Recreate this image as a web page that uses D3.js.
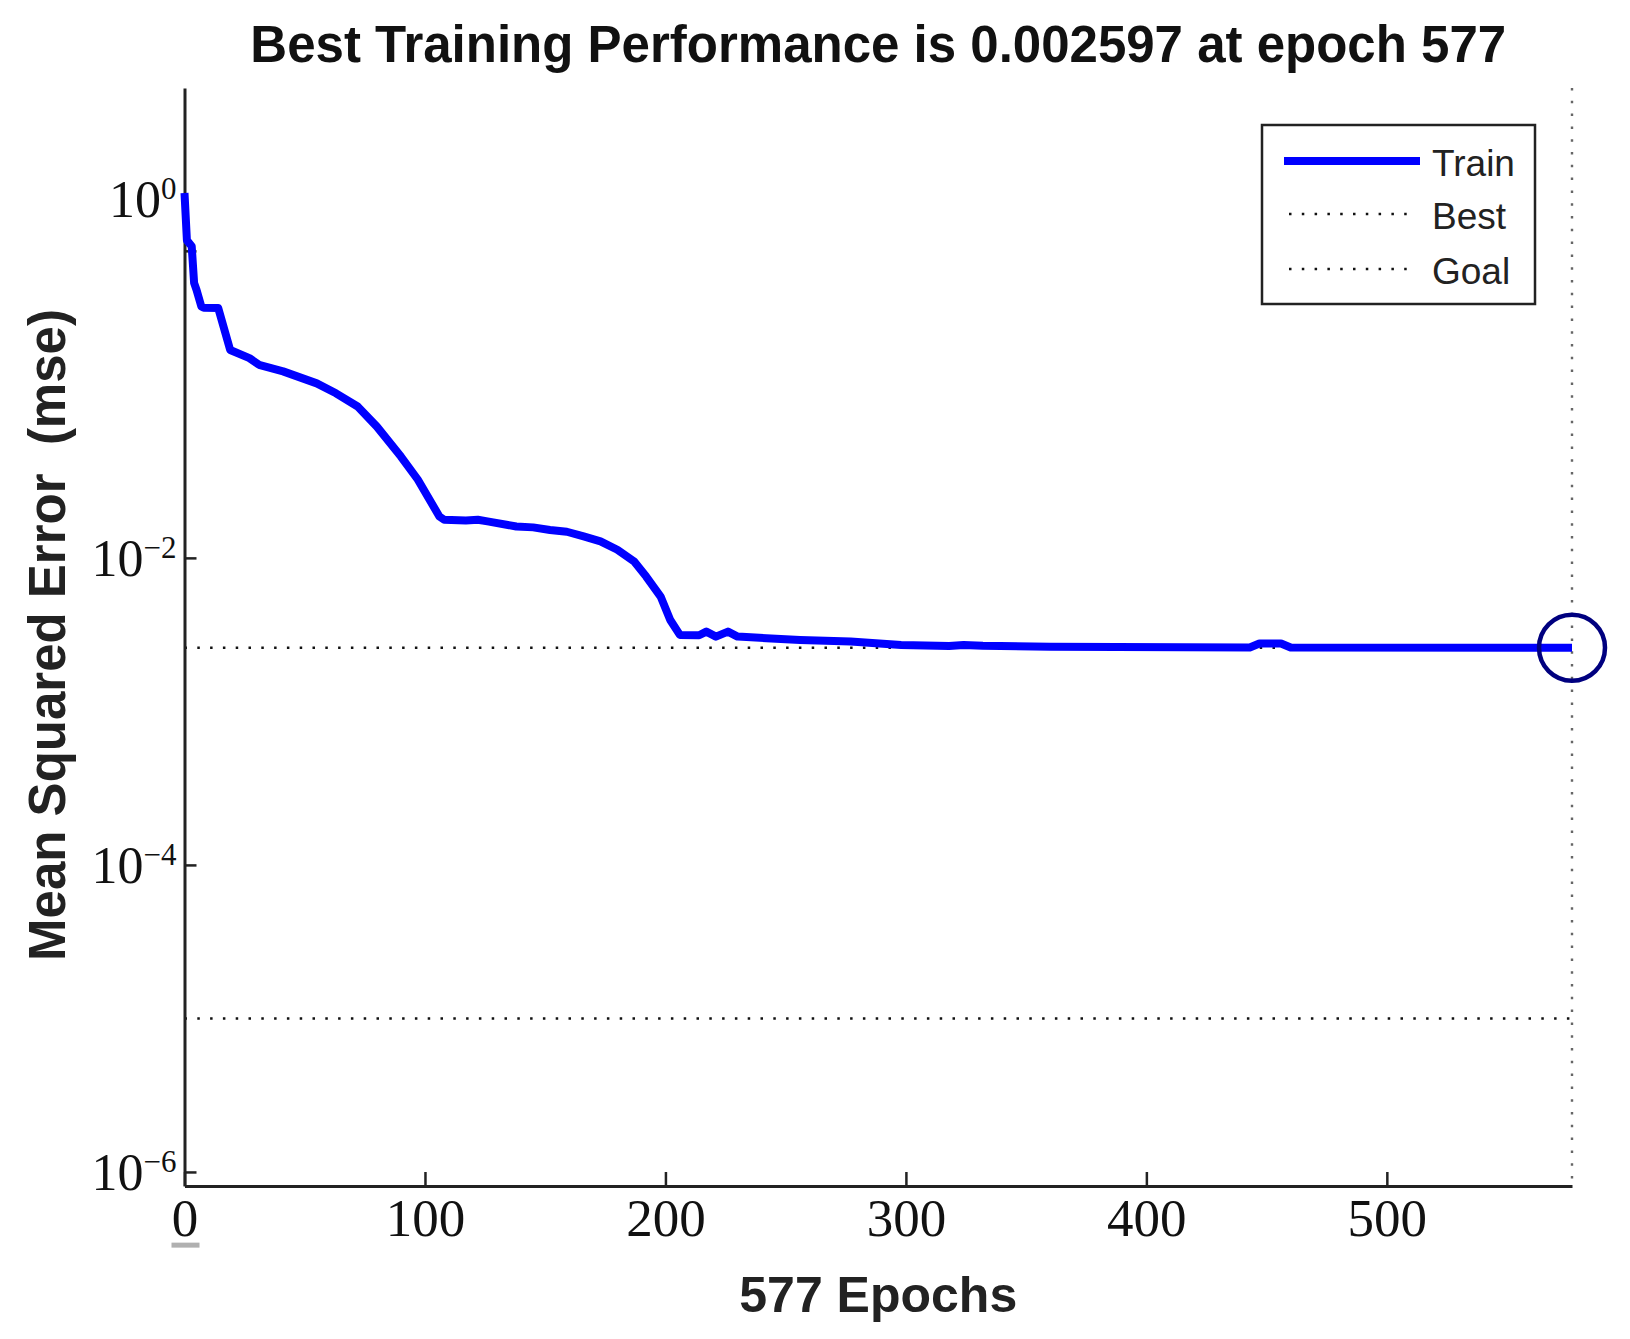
<!DOCTYPE html>
<html>
<head>
<meta charset="utf-8">
<script src="https://cdn.jsdelivr.net/npm/d3@7"></script>
<style>
  body { margin: 0; background: #fff; }
  text { white-space: pre; }
</style>
</head>
<body>
<div id="chart"></div>
<script>
// training record
var epochs = [0, 1, 3, 4, 5, 7, 8, 14, 19, 27,
              31, 41, 55, 63, 72, 80, 90, 97, 106, 108,
              117, 122, 126, 138, 145, 152, 159, 166, 173, 180,
              187, 192, 198, 202, 206, 214, 217, 221, 226, 230,
              242, 256, 277, 298, 318, 324, 332, 360, 443, 447,
              456, 460, 577];
var trainMse = [2.38, 1.17, 1.07, 0.617, 0.557, 0.434, 0.426, 0.425, 0.226, 0.200,
                0.181, 0.164, 0.137, 0.118, 0.0968, 0.0716, 0.0457, 0.0324, 0.0186, 0.0177,
                0.0175, 0.0177, 0.0173, 0.0160, 0.0158, 0.0152, 0.0148, 0.0138, 0.0128, 0.0113,
                0.00946, 0.00755, 0.00560, 0.00394, 0.00315, 0.00313, 0.00331, 0.00307, 0.00331, 0.00307,
                0.00300, 0.00292, 0.00285, 0.00271, 0.00267, 0.00271, 0.00268, 0.00264, 0.00261, 0.00277,
                0.00277, 0.00261, 0.002597];

var bestEpoch = 577;
var bestPerf = 0.002597;
var goalPerf = 1e-5;
var totalEpochs = 577;

var xTicks = [0, 100, 200, 300, 400, 500];
var yTicks = [1e-6, 1e-4, 1e-2, 1];
var yTickExp = ["\u22126", "\u22124", "\u22122", "0"];
var legendLabels = ["Train", "Best", "Goal"];

(function () {
  var width = 1630, height = 1339;
  var plotL = 184.5, plotR = 1572, plotT = 88, plotB = 1186;

  var svg = d3.select("#chart").append("svg")
    .attr("width", width)
    .attr("height", height)
    .style("background", "#fff");

  var x = d3.scaleLinear().domain([0, totalEpochs]).range([plotL, plotR]);
  var y = d3.scaleLog().domain([8.1e-7, 11.5]).range([plotB, plotT]);

  var sans = "'Liberation Sans', Arial, Helvetica, sans-serif";
  var serif = "'Liberation Serif', 'Times New Roman', serif";

  // best / goal reference lines (dotted)
  var dots = "2.5 10.3";
  svg.append("line")
    .attr("x1", plotL).attr("x2", plotR)
    .attr("y1", y(bestPerf)).attr("y2", y(bestPerf))
    .attr("stroke", "#111").attr("stroke-width", 2.6)
    .attr("stroke-dasharray", dots);
  svg.append("line")
    .attr("x1", plotL).attr("x2", plotR)
    .attr("y1", y(goalPerf)).attr("y2", y(goalPerf))
    .attr("stroke", "#111").attr("stroke-width", 2.6)
    .attr("stroke-dasharray", dots);
  svg.append("line")
    .attr("x1", x(bestEpoch)).attr("x2", x(bestEpoch))
    .attr("y1", plotT).attr("y2", plotB)
    .attr("stroke", "#666").attr("stroke-width", 2.4)
    .attr("stroke-dasharray", dots);

  // axes
  var xAxis = svg.append("g")
    .attr("transform", "translate(0," + plotB + ")")
    .call(d3.axisBottom(x).tickValues(xTicks).tickSize(-14).tickSizeOuter(0).tickPadding(12));
  xAxis.select(".domain").attr("stroke", "#222").attr("stroke-width", 3);
  xAxis.selectAll(".tick line").attr("stroke", "#222").attr("stroke-width", 2.5);
  xAxis.selectAll(".tick text")
    .style("font-family", serif)
    .style("font-size", "53px")
    .attr("fill", "#111");

  var yAxis = svg.append("g")
    .attr("transform", "translate(" + plotL + ",0)")
    .call(d3.axisLeft(y).tickValues(yTicks).tickSize(-12).tickSizeOuter(0).tickFormat(""));
  yAxis.select(".domain").attr("stroke", "#222").attr("stroke-width", 3);
  yAxis.selectAll(".tick line").attr("stroke", "#222").attr("stroke-width", 2.5);

  // 10^n labels; the top one sits above its tick in the source figure
  yAxis.selectAll(".tick").each(function (d, i) {
    var lift = d === 1 ? 52 : 0;
    var t = d3.select(this).append("text")
      .attr("x", -8)
      .attr("y", 18 - lift)
      .attr("text-anchor", "end")
      .attr("fill", "#111")
      .style("font-family", serif)
      .style("font-size", "52px");
    t.append("tspan").text("10");
    t.append("tspan")
      .attr("dy", -18)
      .style("font-size", "31px")
      .text(yTickExp[i]);
  });

  // gray underline under the "0" tick label, as in the source
  var zeroLabel = xAxis.selectAll(".tick text").filter(function (d) { return d === 0; }).node();
  if (zeroLabel) {
    var bb = zeroLabel.getBBox();
    xAxis.append("rect")
      .attr("x", x(0) - 13).attr("width", 28)
      .attr("y", bb.y + bb.height - 4).attr("height", 5)
      .attr("fill", "#b0b0b0");
  }

  // training curve
  var line = d3.line()
    .x(function (d) { return x(d[0]); })
    .y(function (d) { return y(d[1]); });

  svg.append("path")
    .datum(d3.zip(epochs, trainMse))
    .attr("d", line)
    .attr("fill", "none")
    .attr("stroke", "#0000ff")
    .attr("stroke-width", 8)
    .attr("stroke-linejoin", "round");

  // best point marker
  svg.append("circle")
    .attr("cx", x(bestEpoch))
    .attr("cy", y(bestPerf))
    .attr("r", 33)
    .attr("fill", "none")
    .attr("stroke", "#00007f")
    .attr("stroke-width", 4.5);

  // titles
  svg.append("text")
    .attr("x", (plotL + plotR) / 2)
    .attr("y", 62)
    .attr("text-anchor", "middle")
    .style("font-family", sans)
    .style("font-weight", "bold")
    .style("font-size", "51px")
    .attr("fill", "#111")
    .text("Best Training Performance is " + bestPerf + " at epoch " + bestEpoch);

  svg.append("text")
    .attr("x", (plotL + plotR) / 2)
    .attr("y", 1312)
    .attr("text-anchor", "middle")
    .style("font-family", sans)
    .style("font-weight", "bold")
    .style("font-size", "50px")
    .attr("fill", "#222")
    .text(totalEpochs + " Epochs");

  svg.append("text")
    .attr("transform", "translate(65," + ((plotT + plotB) / 2 - 2) + ") rotate(-90)")
    .attr("text-anchor", "middle")
    .style("font-family", sans)
    .style("font-weight", "bold")
    .style("font-size", "51px")
    .attr("fill", "#222")
    .text("Mean Squared Error  (mse)");

  // legend
  var lg = svg.append("g").attr("transform", "translate(1262,125)");
  lg.append("rect")
    .attr("width", 273).attr("height", 179)
    .attr("fill", "#fff")
    .attr("stroke", "#222").attr("stroke-width", 2.5);

  var rowY = [36, 89, 144];
  legendLabels.forEach(function (name, i) {
    var row = lg.append("g").attr("transform", "translate(0," + rowY[i] + ")");
    if (i === 0) {
      row.append("line")
        .attr("x1", 22).attr("x2", 158)
        .attr("stroke", "#0000ff").attr("stroke-width", 8);
    } else {
      row.append("line")
        .attr("x1", 27).attr("x2", 147)
        .attr("stroke", "#111").attr("stroke-width", 2.6)
        .attr("stroke-dasharray", "2.5 10.3");
    }
    row.append("text")
      .attr("x", 170)
      .attr("y", 15)
      .style("font-family", sans)
      .style("font-size", "37px")
      .attr("fill", "#222")
      .text(name);
  });
})();
</script>
</body>
</html>
